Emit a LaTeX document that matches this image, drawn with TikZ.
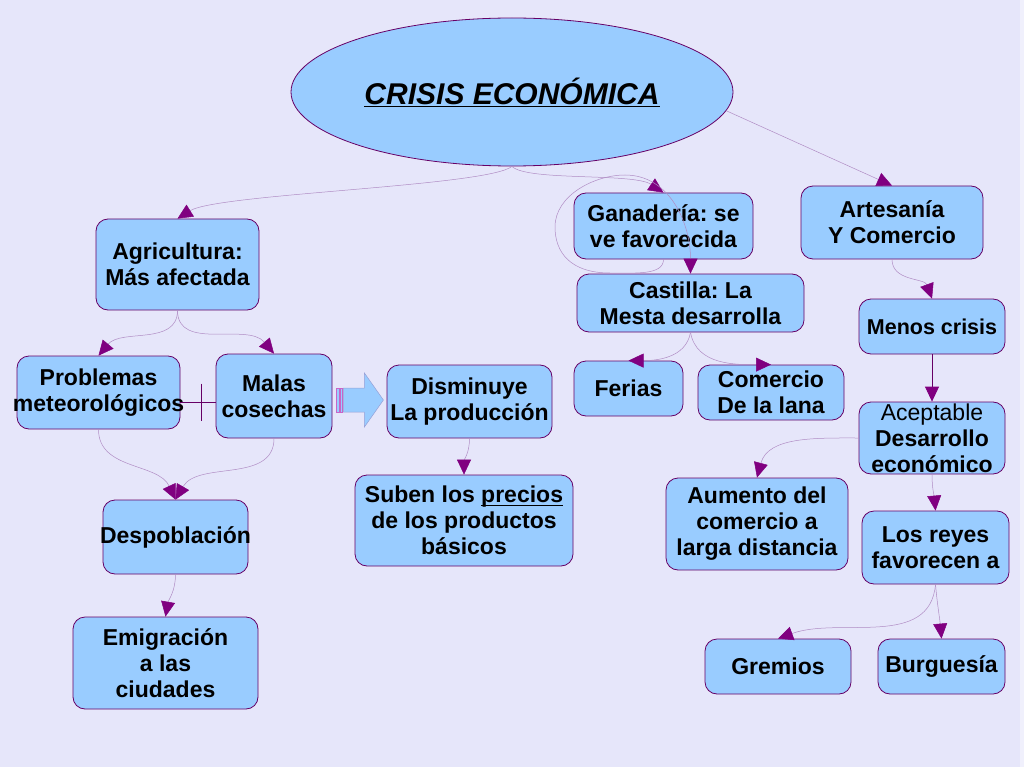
\documentclass[tikz,border=0pt]{standalone}
\usepackage{fontspec}
\setmainfont{Liberation Sans}
\usetikzlibrary{shapes.geometric, arrows.meta, calc}
\definecolor{fondo}{RGB}{230,230,250}
\definecolor{franja}{RGB}{240,240,252}
\definecolor{relleno}{RGB}{153,204,255}
\definecolor{borde}{RGB}{102,0,102}
\definecolor{linea}{RGB}{176,140,196}
\definecolor{punta}{RGB}{128,0,128}
\definecolor{bordeflecha}{RGB}{150,160,215}
\definecolor{barras}{RGB}{200,100,200}
\newcommand\subrayar[1]{\setbox0\hbox{#1}\rlap{\rule[-3pt]{\wd0}{1.2pt}}\box0}
\frenchspacing

\begin{document}
\begin{tikzpicture}[x=1pt, y=1pt,
  caja/.style={draw=borde, fill=relleno, line width=0.8pt, rounded corners=12pt, align=center, inner sep=0pt, font=\fontsize{23}{26}\selectfont\bfseries},
  enlace/.style={draw=linea, line width=0.5pt, -{Triangle[length=15pt, width=14pt, color=punta]}}]
\fill[fondo] (0,0) rectangle (1024,-767);
\fill[franja] (1020,0) rectangle (1024,-767);
\useasboundingbox (0,0) rectangle (1024,-767);

\node[ellipse, draw=borde, fill=relleno, line width=0.8pt, minimum width=442pt, minimum height=148pt, inner sep=0pt, font=\fontsize{30}{34}\selectfont\bfseries\itshape] (crisis) at (512,-92) {\underline{CRISIS ECONÓMICA}};

\node[caja, minimum width=163pt, minimum height=91pt] (agri) at (177.5,-264.5) {Agricultura:\\Más afectada};
\node[caja, minimum width=163pt, minimum height=73pt] (prob) at (98.5,-392.5) {Problemas\\\makebox[150pt]{meteorológicos}};
\node[caja, minimum width=116pt, minimum height=84pt] (malas) at (274,-396) {Malas\\cosechas};
\node[caja, minimum width=165pt, minimum height=73pt] (dismin) at (469.5,-401.5) {Disminuye\\La producción};
\node[caja, minimum width=145pt, minimum height=74pt] (despob) at (175.5,-537) {\makebox[130pt]{Despoblación}};
\node[caja, minimum width=185pt, minimum height=92pt] (emig) at (165.5,-663) {Emigración\\a las\\ciudades};
\node[caja, minimum width=218pt, minimum height=91pt] (suben) at (464,-520.5) {Suben los \subrayar{precios}\\de los productos\\básicos};
\node[caja, minimum width=179pt, minimum height=66pt] (gan) at (663.5,-226) {Ganadería: se\\ve favorecida};
\node[caja, minimum width=227pt, minimum height=58pt] (cast) at (690.5,-303) {Castilla: La\\Mesta desarrolla};
\node[caja, minimum width=109pt, minimum height=55pt] (ferias) at (628.5,-388.5) {Ferias};
\node[caja, minimum width=146pt, minimum height=55pt] (lana) at (771,-392.5) {Comercio\\De la lana};
\node[caja, minimum width=182pt, minimum height=73pt] (artes) at (892,-222.5) {Artesanía\\Y Comercio};
\node[caja, minimum width=146pt, minimum height=55pt, font=\fontsize{21.5}{26}\selectfont\bfseries] (menos) at (932,-326.5) {Menos crisis};
\node[caja, minimum width=146pt, minimum height=72pt] (acept) at (932,-438) {{\mdseries Aceptable}\\Desarrollo\\económico};
\node[caja, minimum width=182pt, minimum height=92pt] (aumento) at (757,-524) {Aumento del\\comercio a\\larga distancia};
\node[caja, minimum width=147pt, minimum height=73pt] (reyes) at (935.5,-547.5) {Los reyes\\favorecen a};
\node[caja, minimum width=146pt, minimum height=55pt] (gremios) at (778,-666.5) {Gremios};
\node[caja, minimum width=127pt, minimum height=55pt] (burg) at (941.5,-666.5) {Burguesía};

\draw[enlace] (crisis.south) .. controls +(-25,-20) and +(40,25) .. (agri.north);
\draw[enlace] (crisis.south) .. controls +(15,-15) and +(-30,20) .. (gan.north);
\draw[enlace] (crisis.-5) -- (artes.north);

\draw[enlace] (agri.south) to[out=-90, in=50] (prob.north);
\draw[enlace] (agri.south) to[out=-90, in=130] (malas.north);
\draw[borde, line width=0.6pt] ([yshift=-10pt]prob.east) -- coordinate[pos=0.58] (tope) ([yshift=-10pt]prob.east -| malas.west);
\draw[borde, line width=0.6pt] ([yshift=19pt]tope) -- ([yshift=-18pt]tope);

\begin{scope}[shift={($(malas.east)+(0,-4)$)}]
\draw[fill=relleno, draw=bordeflecha, line width=0.5pt] (11,12) -- (32,12) -- (32,27) -- (51,0) -- (32,-27) -- (32,-12) -- (11,-12) -- cycle;
\draw[fill=relleno, draw=barras, line width=0.6pt] (4,12) rectangle (7,-12);
\draw[fill=relleno, draw=barras, line width=0.6pt] (8,12) rectangle (10,-12);
\end{scope}

\draw[enlace] (prob.south) to[out=-90, in=115] (despob.north);
\draw[enlace] (malas.south) to[out=-90, in=60] (despob.north);
\draw[enlace] (despob.south) to[out=-90, in=80] (emig.north);
\draw[enlace] (dismin.south) to[out=-90, in=90] (suben.north);

\draw[enlace] (gan.south) .. controls +(0,-16) and +(25,0) .. (610,-273) .. controls +(-40,0) and +(0,-25) .. (555,-227) .. controls +(0,32) and +(-30,0) .. (625,-175) .. controls +(45,0) and +(0,50) .. (cast.north);
\draw[enlace] (cast.south) to[out=-100, in=0] (ferias.north);
\draw[enlace] (cast.south) to[out=-80, in=180] (lana.north);

\draw[enlace] (artes.south) to[out=-90, in=110] (menos.north);
\draw[enlace, draw=borde, line width=0.8pt] (menos.south) -- (acept.north);
\draw[enlace] (acept.west) to[out=180, in=75] (aumento.north);
\draw[enlace] (acept.south) to[out=-90, in=95] (reyes.north);
\draw[enlace] (reyes.south) to[out=-95, in=20] (gremios.north);
\draw[enlace] (reyes.south) to[out=-85, in=95] (burg.north);
\end{tikzpicture}
\end{document}
